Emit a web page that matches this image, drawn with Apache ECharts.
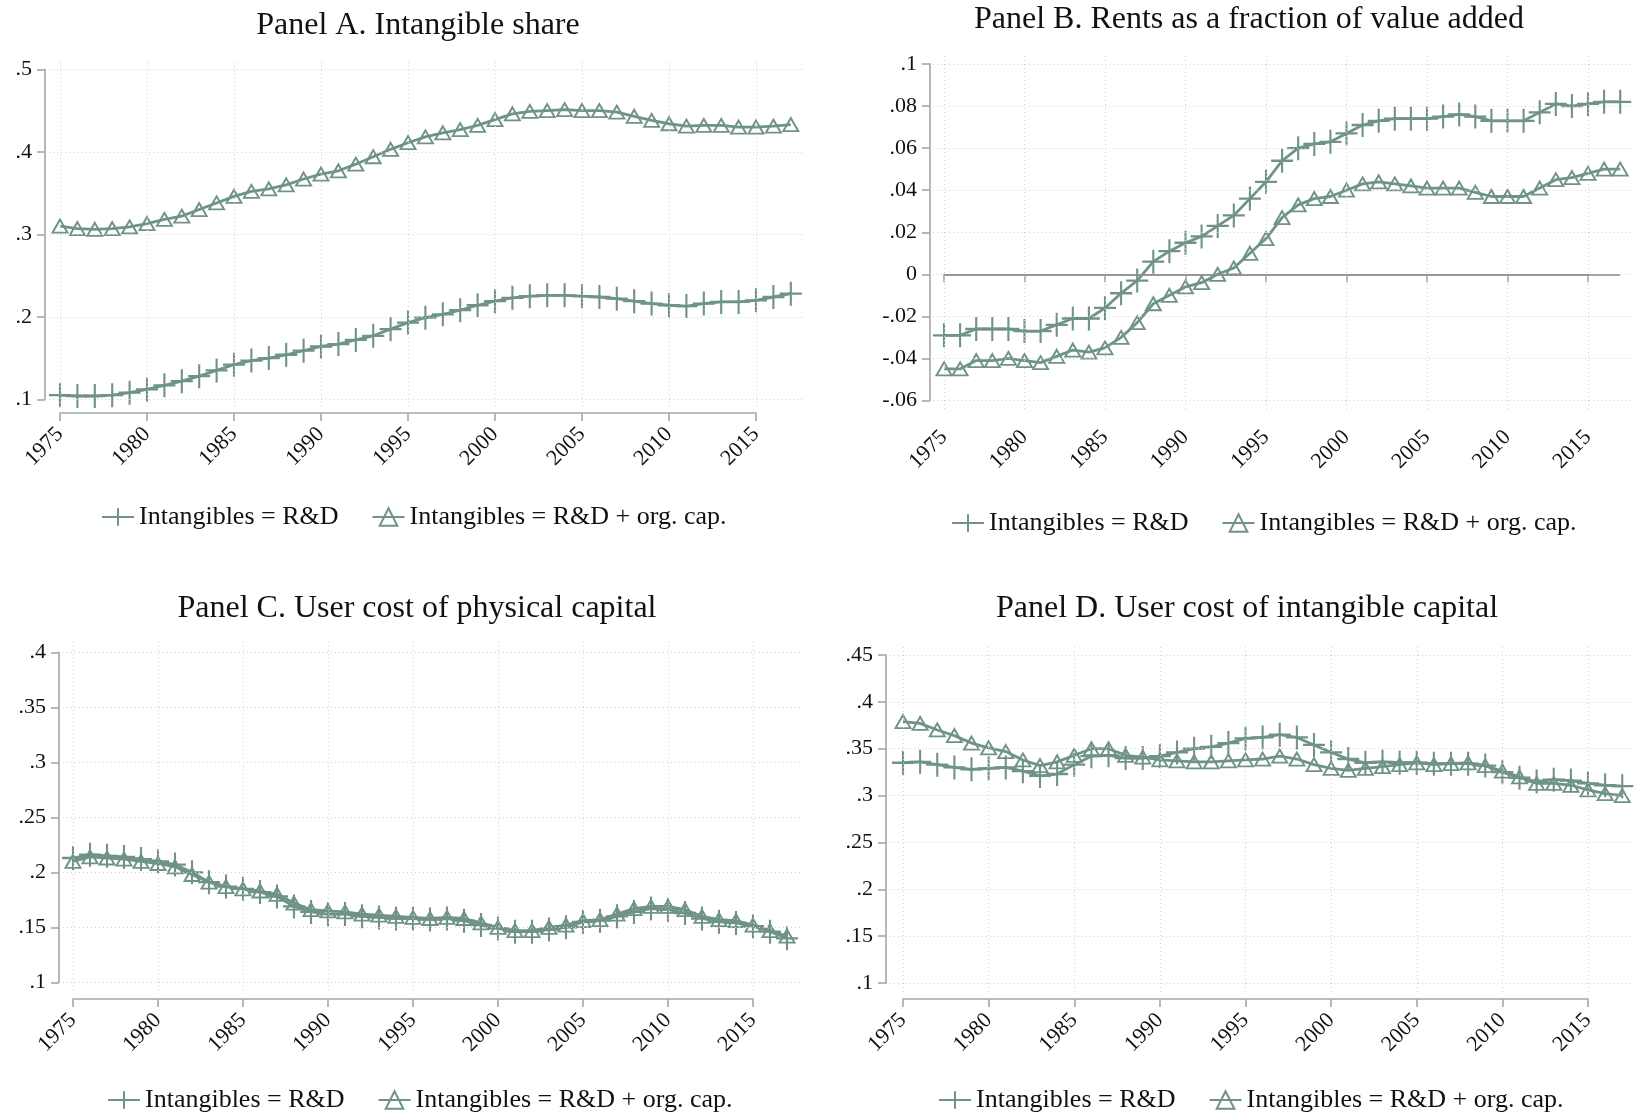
<!DOCTYPE html>
<html>
<head>
<meta charset="utf-8">
<title>Intangibles, rents and user costs</title>
<script src="https://cdn.jsdelivr.net/npm/echarts@6/dist/echarts.min.js"></script>
<style>
  html, body { margin: 0; padding: 0; background: #ffffff; }
  #chart { width: 1635px; height: 1117px; }
</style>
</head>
<body>
<div id="chart"></div>
<script>
// Years on the horizontal axis
const years = [1975, 1976, 1977, 1978, 1979, 1980, 1981, 1982, 1983, 1984,
  1985, 1986, 1987, 1988, 1989, 1990, 1991, 1992, 1993, 1994,
  1995, 1996, 1997, 1998, 1999, 2000, 2001, 2002, 2003, 2004,
  2005, 2006, 2007, 2008, 2009, 2010, 2011, 2012, 2013, 2014,
  2015, 2016, 2017];

const xTicks = [1975, 1980, 1985, 1990, 1995, 2000, 2005, 2010, 2015];

// Panel A. Intangible share
const shareRD = [0.105, 0.104, 0.104, 0.105, 0.108, 0.112, 0.117, 0.122, 0.128, 0.135,
  0.142, 0.147, 0.150, 0.154, 0.159, 0.164, 0.167, 0.172, 0.177, 0.185,
  0.193, 0.199, 0.203, 0.208, 0.214, 0.219, 0.223, 0.225, 0.226, 0.226,
  0.225, 0.224, 0.222, 0.219, 0.216, 0.214, 0.213, 0.216, 0.218, 0.218,
  0.220, 0.224, 0.228];
const shareOrg = [0.310, 0.307, 0.306, 0.307, 0.309, 0.313, 0.318, 0.322, 0.330, 0.338,
  0.346, 0.352, 0.355, 0.360, 0.367, 0.373, 0.377, 0.385, 0.394, 0.403,
  0.411, 0.418, 0.423, 0.427, 0.432, 0.439, 0.446, 0.449, 0.450, 0.451,
  0.450, 0.450, 0.448, 0.443, 0.438, 0.434, 0.431, 0.432, 0.432, 0.430,
  0.430, 0.431, 0.433];
const yTicksA = [0.1, 0.2, 0.3, 0.4, 0.5];

// Panel B. Rents as a fraction of value added
const rentsRD = [-0.029, -0.029, -0.026, -0.026, -0.026, -0.027, -0.027, -0.024, -0.021, -0.021,
  -0.016, -0.009, -0.003, 0.006, 0.011, 0.015, 0.018, 0.023, 0.028, 0.036,
  0.044, 0.054, 0.060, 0.062, 0.063, 0.067, 0.071, 0.073, 0.074, 0.074,
  0.074, 0.075, 0.076, 0.075, 0.073, 0.073, 0.073, 0.077, 0.081, 0.080,
  0.081, 0.082, 0.082];
const rentsOrg = [-0.045, -0.045, -0.041, -0.041, -0.040, -0.041, -0.042, -0.039, -0.036, -0.037,
  -0.035, -0.030, -0.023, -0.014, -0.010, -0.006, -0.004, 0.000, 0.003, 0.010,
  0.017, 0.027, 0.033, 0.036, 0.037, 0.040, 0.043, 0.044, 0.043, 0.042,
  0.041, 0.041, 0.041, 0.039, 0.037, 0.037, 0.037, 0.041, 0.045, 0.046,
  0.048, 0.050, 0.050];
const yTicksB = [-0.06, -0.04, -0.02, 0, 0.02, 0.04, 0.06, 0.08, 0.1];

// Panel C. User cost of physical capital
const physRD = [0.213, 0.216, 0.215, 0.214, 0.212, 0.210, 0.207, 0.200, 0.191, 0.187,
  0.185, 0.182, 0.178, 0.169, 0.164, 0.162, 0.162, 0.160, 0.159, 0.158,
  0.158, 0.157, 0.158, 0.156, 0.152, 0.149, 0.146, 0.146, 0.148, 0.150,
  0.155, 0.156, 0.160, 0.164, 0.167, 0.166, 0.163, 0.158, 0.155, 0.154,
  0.151, 0.146, 0.140];
const physOrg = [0.210, 0.214, 0.213, 0.212, 0.210, 0.208, 0.205, 0.198, 0.191, 0.187,
  0.185, 0.183, 0.180, 0.172, 0.166, 0.165, 0.164, 0.162, 0.161, 0.160,
  0.159, 0.158, 0.159, 0.158, 0.154, 0.150, 0.147, 0.147, 0.150, 0.152,
  0.156, 0.157, 0.162, 0.167, 0.169, 0.169, 0.166, 0.160, 0.157, 0.156,
  0.152, 0.147, 0.142];
const yTicksC = [0.1, 0.15, 0.2, 0.25, 0.3, 0.35, 0.4];

// Panel D. User cost of intangible capital
const intanRD = [0.335, 0.336, 0.333, 0.330, 0.328, 0.329, 0.330, 0.326, 0.321, 0.323,
  0.333, 0.342, 0.343, 0.340, 0.340, 0.342, 0.346, 0.350, 0.352, 0.356,
  0.361, 0.362, 0.365, 0.362, 0.354, 0.346, 0.339, 0.335, 0.336, 0.335,
  0.335, 0.334, 0.334, 0.334, 0.332, 0.325, 0.319, 0.315, 0.317, 0.316,
  0.313, 0.311, 0.310];
const intanOrg = [0.379, 0.377, 0.370, 0.364, 0.356, 0.351, 0.347, 0.338, 0.332, 0.336,
  0.343, 0.350, 0.350, 0.343, 0.341, 0.338, 0.337, 0.336, 0.336, 0.337,
  0.338, 0.339, 0.342, 0.339, 0.333, 0.329, 0.327, 0.329, 0.331, 0.333,
  0.335, 0.333, 0.334, 0.335, 0.332, 0.326, 0.320, 0.313, 0.313, 0.311,
  0.306, 0.302, 0.300];
const yTicksD = [0.1, 0.15, 0.2, 0.25, 0.3, 0.35, 0.4, 0.45];

const seriesNames = ['Intangibles = R&D', 'Intangibles = R&D + org. cap.'];

// ---- styling ----
const LINE_COLOR = '#6f9486';
const AXIS_COLOR = '#a6a6a6';
const GRID_COLOR = '#d2d2d2';
const FONT = '"Liberation Serif", "Times New Roman", serif';
const PLUS = 'path://M10,0 L10,20 M0,10 L20,10';

// Stata-style tick labels: drop the leading zero (".5", "-.02")
function fmtTick(v) {
  const r = Math.round(v * 10000) / 10000;
  if (r === 0) return '0';
  return String(r).replace(/^(-?)0\./, '$1.');
}
function fmtYear(v) { return String(Math.round(v)); }

// Panel geometry (pixels): tick span of each axis, position of the axis lines,
// and the extent of the plotting region that holds the gridlines and curves.
const panels = [
  { title: 'Panel A. Intangible share', titleX: 413, titleY: 5,
    rd: shareRD, org: shareOrg, yTicks: yTicksA,
    x0: 60, x1: 756, yTop: 69.3, yBot: 399.3, yAxisX: 45, xAxisY: 413,
    plot: { l: 49, r: 803, t: 59, b: 407 },
    legendX: 101, legendY: 504 },
  { title: 'Panel B. Rents as a fraction of value added', titleX: 1244, titleY: -1,
    rd: rentsRD, org: rentsOrg, yTicks: yTicksB, zeroLine: true,
    x0: 944, x1: 1588, yTop: 64, yBot: 400.5, yAxisX: 930, xAxisY: 416,
    plot: { l: 933, r: 1633, t: 53, b: 409 },
    legendX: 951, legendY: 510 },
  { title: 'Panel C. User cost of physical capital', titleX: 412, titleY: 588,
    rd: physRD, org: physOrg, yTicks: yTicksC,
    x0: 73, x1: 753, yTop: 652.3, yBot: 982.3, yAxisX: 59, xAxisY: 999,
    plot: { l: 63, r: 803, t: 642, b: 991 },
    legendX: 107, legendY: 1087 },
  { title: 'Panel D. User cost of intangible capital', titleX: 1242, titleY: 588,
    rd: intanRD, org: intanOrg, yTicks: yTicksD,
    x0: 903, x1: 1588, yTop: 655, yBot: 983, yAxisX: 886, xAxisY: 999,
    plot: { l: 890, r: 1633, t: 644, b: 992 },
    legendX: 938, legendY: 1087 }
];

const option = {
  animation: false,
  backgroundColor: '#ffffff',
  title: [], grid: [], xAxis: [], yAxis: [], legend: [], series: []
};

panels.forEach((p, k) => {
  const xFirst = xTicks[0], xLast = xTicks[xTicks.length - 1];
  const vBot = p.yTicks[0], vTop = p.yTicks[p.yTicks.length - 1];
  const yInterval = Math.round((p.yTicks[1] - p.yTicks[0]) * 10000) / 10000;

  // data units per pixel
  const xScale = (xLast - xFirst) / (p.x1 - p.x0);
  const yScale = (vTop - vBot) / (p.yBot - p.yTop);

  // plotting region: curves, gridlines
  option.grid.push({
    left: p.plot.l, top: p.plot.t,
    width: p.plot.r - p.plot.l, height: p.plot.b - p.plot.t,
    containLabel: false
  });
  // axis frame: spans only the labelled tick range
  option.grid.push({
    left: p.x0, top: p.yTop,
    width: p.x1 - p.x0, height: p.yBot - p.yTop,
    containLabel: false
  });

  option.xAxis.push({
    type: 'value', gridIndex: 2 * k, show: false,
    min: xFirst + (p.plot.l - p.x0) * xScale,
    max: xFirst + (p.plot.r - p.x0) * xScale
  });
  option.xAxis.push({
    type: 'value', gridIndex: 2 * k + 1,
    min: xFirst, max: xLast, interval: 5, offset: p.xAxisY - p.yBot,
    axisLine: { show: true, lineStyle: { color: AXIS_COLOR, width: 1.6 } },
    axisTick: { show: true, length: 8, lineStyle: { color: AXIS_COLOR, width: 1.6 } },
    axisLabel: { rotate: 45, margin: 18, fontSize: 22, fontFamily: FONT, color: '#111',
      formatter: fmtYear, showMinLabel: true, showMaxLabel: true },
    splitLine: { show: false }
  });

  option.yAxis.push({
    type: 'value', gridIndex: 2 * k, show: false,
    max: vTop + (p.yTop - p.plot.t) * yScale,
    min: vBot - (p.plot.b - p.yBot) * yScale
  });
  option.yAxis.push({
    type: 'value', gridIndex: 2 * k + 1,
    min: vBot, max: vTop, interval: yInterval, offset: p.x0 - p.yAxisX,
    axisLine: { show: true, lineStyle: { color: AXIS_COLOR, width: 1.6 } },
    axisTick: { show: true, length: 8, lineStyle: { color: AXIS_COLOR, width: 1.6 } },
    axisLabel: { margin: 13, fontSize: 22, fontFamily: FONT, color: '#111',
      formatter: fmtTick, showMinLabel: true, showMaxLabel: true },
    splitLine: { show: false }
  });

  option.title.push({
    text: p.title, left: p.titleX, top: p.titleY, textAlign: 'center',
    textStyle: { fontFamily: FONT, fontSize: 32, fontWeight: 'normal', color: '#111' }
  });

  option.legend.push({
    data: seriesNames.slice(), left: p.legendX, top: p.legendY, padding: 0,
    orient: 'horizontal', itemGap: 33, itemWidth: 32, itemHeight: 22,
    selectedMode: false,
    textStyle: { fontFamily: FONT, fontSize: 26, color: '#111' }
  });

  // dotted gridlines (and the zero reference line in panel B)
  const gridMarks = xTicks.map(v => ({ xAxis: v }))
    .concat(p.yTicks.map(v => ({ yAxis: v })));
  if (p.zeroLine) {
    gridMarks.push([
      { coord: [years[0], 0], lineStyle: { color: '#8a8a8a', type: 'solid', width: 1.6 } },
      { coord: [years[years.length - 1], 0] }
    ]);
  }
  option.series.push({
    type: 'line', name: 'gridlines-' + k, data: [],
    xAxisIndex: 2 * k, yAxisIndex: 2 * k, z: 1, silent: true,
    markLine: {
      silent: true, symbol: ['none', 'none'], label: { show: false },
      lineStyle: { color: GRID_COLOR, type: [1, 3], width: 1 },
      emphasis: { disabled: true },
      data: gridMarks
    }
  });

  option.series.push({
    type: 'line', name: seriesNames[0],
    xAxisIndex: 2 * k, yAxisIndex: 2 * k, z: 3,
    data: years.map((y, i) => [y, p.rd[i]]),
    symbol: PLUS, symbolSize: [22, 24],
    showAllSymbol: true,
    lineStyle: { color: LINE_COLOR, width: 2.8 },
    itemStyle: { color: 'transparent', borderColor: LINE_COLOR, borderWidth: 2.2 },
    emphasis: { disabled: true }
  });
  option.series.push({
    type: 'line', name: seriesNames[1],
    xAxisIndex: 2 * k, yAxisIndex: 2 * k, z: 3,
    data: years.map((y, i) => [y, p.org[i]]),
    symbol: 'triangle', symbolSize: [15, 13],
    showAllSymbol: true,
    lineStyle: { color: LINE_COLOR, width: 2.8 },
    itemStyle: { color: 'transparent', borderColor: LINE_COLOR, borderWidth: 1.9 },
    emphasis: { disabled: true }
  });
});

const chart = echarts.init(document.getElementById('chart'), null, { renderer: 'canvas' });
chart.setOption(option);
</script>
</body>
</html>
